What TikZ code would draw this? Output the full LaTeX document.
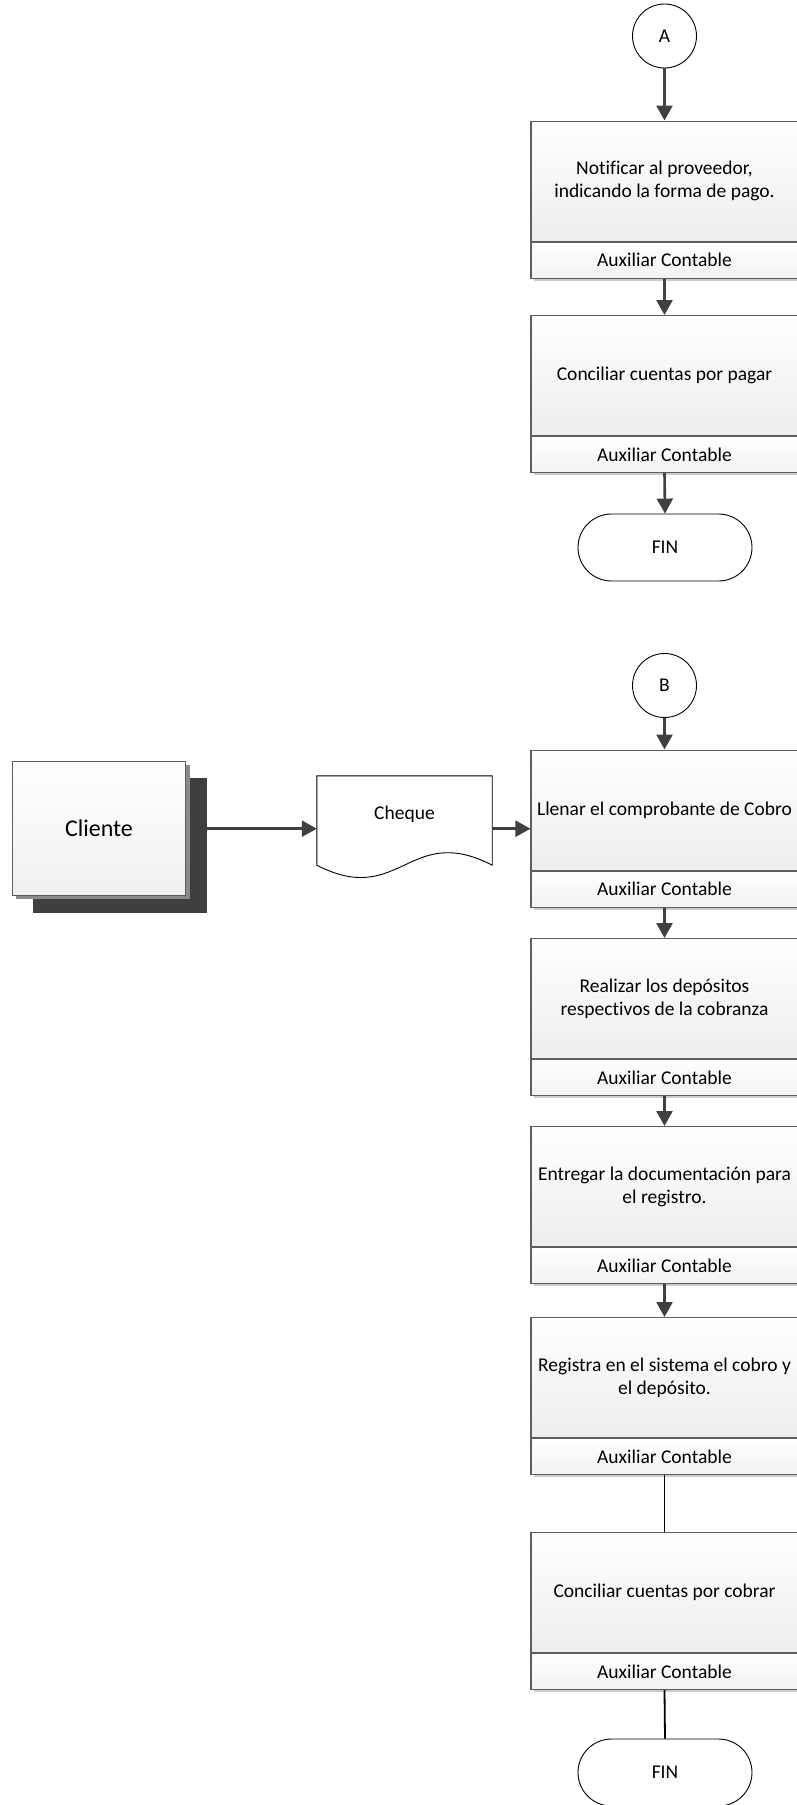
\documentclass[tikz,border=0pt]{standalone}
\usepackage{fontspec}
\setmainfont[Ligatures={NoCommon}]{Carlito}
\usetikzlibrary{arrows.meta,shapes.misc,shadows,calc}
\definecolor{arrowc}{HTML}{404040}
\definecolor{boxc}{HTML}{5E5E5E}
\definecolor{darkshadow}{HTML}{3F3F3F}
\definecolor{midshadow}{HTML}{8A8A8A}
\tikzset{
  txt/.style={font=\fontsize{19.5}{23}\selectfont},
  mainbox/.style={txt, draw=boxc, line width=1.1pt, minimum width=267pt, minimum height=120pt,
    top color=white, bottom color=black!7, align=center, inner sep=0pt, anchor=north,
    drop shadow={shadow xshift=2.5pt, shadow yshift=-2.5pt, fill=black!20, opacity=1}},
  bandbox/.style={txt, draw=boxc, line width=1.1pt, minimum width=267pt, minimum height=36pt,
    top color=white, bottom color=black!5, inner sep=0pt, anchor=north,
    drop shadow={shadow xshift=2.5pt, shadow yshift=-2.5pt, fill=black!20, opacity=1}},
  flow/.style={draw=arrowc, line width=2.6pt, -{Triangle[length=15pt,width=16pt]}},
  plainline/.style={draw=black, line width=1.8pt},
  conn/.style={txt, circle, draw=black, line width=0.9pt, fill=white, minimum size=64pt, inner sep=0pt},
  term/.style={txt, rounded rectangle, draw=black, line width=0.9pt, fill=white, minimum width=174pt, minimum height=67pt, inner sep=0pt},
}
\begin{document}
\begin{tikzpicture}[x=1pt,y=-1pt]
\useasboundingbox (0,0) rectangle (797,1805);

% ---- part A ----
\node[conn] (A) at (664.5,36) {A};
\node[mainbox] (p1) at (664.5,120.5) {Notificar al proveedor,\\indicando la forma de pago.};
\node[bandbox] (b1) at (p1.south) {Auxiliar Contable};
\node[mainbox] (p2) at (664.5,315) {Conciliar cuentas por pagar};
\node[bandbox] (b2) at (p2.south) {Auxiliar Contable};
\node[term] (fin1) at (665,547.5) {FIN};
\draw[flow] (A.south) -- (p1.north);
\draw[flow] (b1.south) -- (p2.north);
\draw[flow] (b2.south) -- (fin1.north);

% ---- part B ----
\node[conn] (B) at (664.5,685.5) {B};
\node[mainbox] (p3) at (664.5,749.5) {Llenar el comprobante de Cobro};
\node[bandbox] (b3) at (p3.south) {Auxiliar Contable};
\node[mainbox] (p4) at (664.5,938) {Realizar los depósitos\\respectivos de la cobranza};
\node[bandbox] (b4) at (p4.south) {Auxiliar Contable};
\node[mainbox] (p5) at (664.5,1126) {Entregar la documentación para\\el registro.};
\node[bandbox] (b5) at (p5.south) {Auxiliar Contable};
\node[mainbox] (p6) at (664.5,1317) {Registra en el sistema el cobro y\\el depósito.};
\node[bandbox] (b6) at (p6.south) {Auxiliar Contable};
\node[mainbox] (p7) at (664.5,1532) {Conciliar cuentas por cobrar};
\node[bandbox] (b7) at (p7.south) {Auxiliar Contable};
\node[term] (fin2) at (665,1772.5) {FIN};
\draw[flow] (B.south) -- (p3.north);
\draw[flow] (b3.south) -- (p4.north);
\draw[flow] (b4.south) -- (p5.north);
\draw[flow] (b5.south) -- (p6.north);
\draw[plainline] (b6.south) -- (p7.north);
\draw[plainline] (b7.south) -- (fin2.north);

% ---- Cliente ----
\node[fill=darkshadow, minimum width=174pt, minimum height=135pt, inner sep=0pt] (clishadow) at (120,845.5) {};
\fill[midshadow] (15.5,764.5) rectangle (189.5,899);
\node[draw=boxc, line width=1pt, top color=white, bottom color=black!6, minimum width=173pt, minimum height=134pt, inner sep=0pt,
  font=\fontsize{24}{28}\selectfont] (cliente) at (99,828.7) {Cliente};

% ---- Cheque ----
\node[minimum width=175pt, minimum height=89pt, inner sep=0pt] (cheque) at (404.5,820.5) {};
\draw[black, line width=0.9pt, fill=white] (cheque.north west) -- (cheque.north east) -- (cheque.south east)
  .. controls (409,822) and (400,908) .. (cheque.south west) -- cycle;
\node[txt] (chequetxt) at (404.5,814) {Cheque};

\draw[flow] (clishadow.east |- cliente.center) -- (cheque.west |- cliente.center);
\draw[flow] (cheque.east |- cliente.center) -- (p3.west |- cliente.center);
\end{tikzpicture}
\end{document}
